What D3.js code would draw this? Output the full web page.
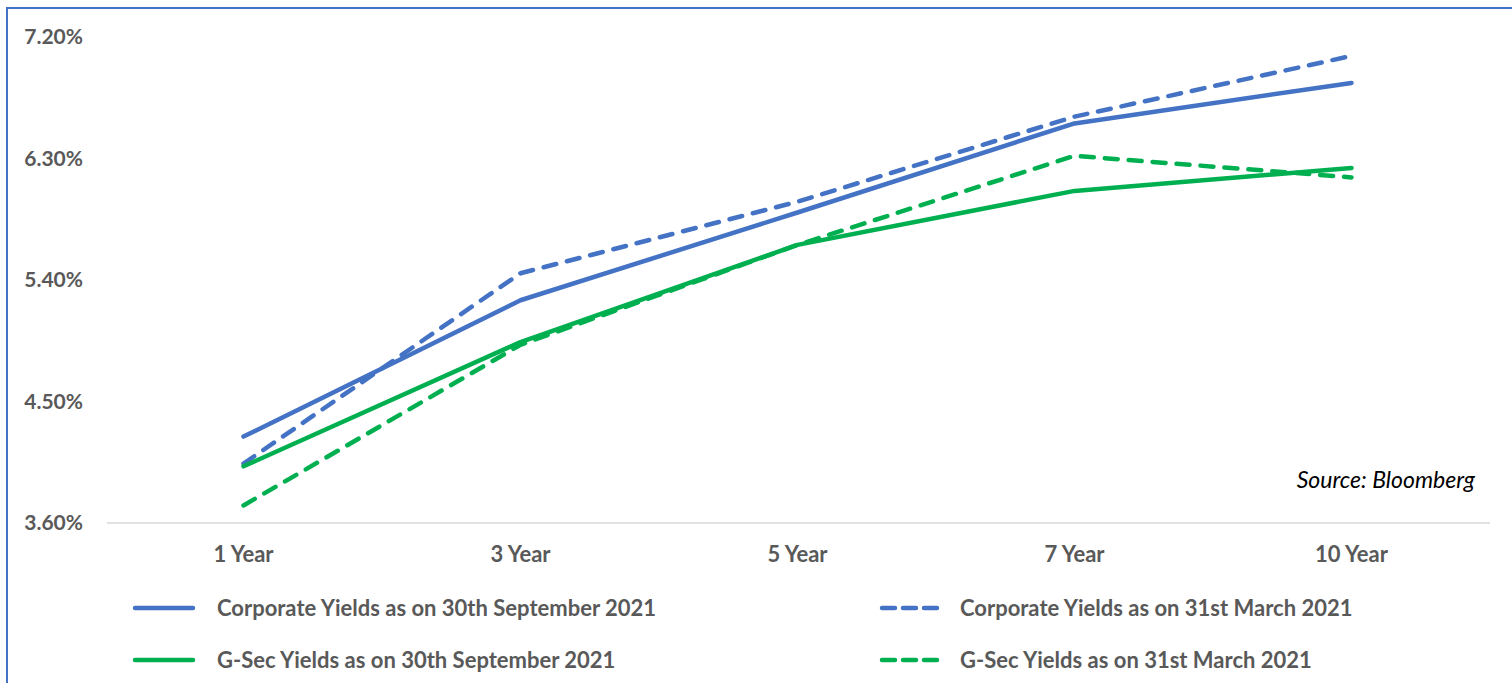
<!DOCTYPE html>
<html><head><meta charset="utf-8">
<script src="https://cdn.jsdelivr.net/npm/d3@7"></script>
<style>
html,body{margin:0;padding:0;background:#fff;}
svg{display:block;font-family:Lato,"Open Sans",sans-serif;}
</style></head>
<body>
<script>
const categories = ["1 Year","3 Year","5 Year","7 Year","10 Year"];
const corpSep = [4.24, 5.25, 5.90, 6.56, 6.86];
const corpMar = [4.04, 5.45, 5.98, 6.61, 7.06];
const gsecSep = [4.02, 4.94, 5.66, 6.06, 6.23];
const gsecMar = [3.73, 4.92, 5.66, 6.32, 6.16];
const yTicks = [3.6, 4.5, 5.4, 6.3, 7.2];
const seriesNames = ["Corporate Yields as on 30th September 2021","Corporate Yields as on 31st March 2021","G-Sec Yields as on 30th September 2021","G-Sec Yields as on 31st March 2021"];
const sourceText = "Source: Bloomberg";

const W = 1512, H = 683;
const svg = d3.select("body").append("svg").attr("width", W).attr("height", H);

// border
svg.append("rect").attr("x", 7).attr("y", 8).attr("width", W + 20).attr("height", H + 20)
  .attr("fill", "none").attr("stroke", "#4472C4").attr("stroke-width", 2);

const x = d3.scaleBand().domain(categories).range([105, 1490]);
const y = d3.scaleLinear().domain([3.6, 7.2]).range([523, 37]);
const cx = d => x(d) + x.bandwidth() / 2;

// baseline
svg.append("line").attr("x1", 107).attr("x2", 1490).attr("y1", y(3.6)).attr("y2", y(3.6))
  .attr("stroke", "#d9d9d9").attr("stroke-width", 1.5);

// y axis labels
const yAxis = d3.axisLeft(y).tickValues(yTicks).tickSize(0).tickPadding(0)
  .tickFormat(d => d3.format(".2f")(d) + "%");
const gy = svg.append("g").attr("transform", "translate(83,0)").call(yAxis);
gy.select(".domain").remove();
gy.selectAll("text").attr("fill", "#595959").attr("font-size", 21).attr("font-weight", "bold")
  .attr("font-family", "Lato,'Open Sans',sans-serif");

// x axis labels
const xAxis = d3.axisBottom(x).tickSize(0).tickPadding(0);
const gx = svg.append("g").attr("transform", "translate(0,546)").call(xAxis);
gx.select(".domain").remove();
gx.selectAll("text").attr("fill", "#595959").attr("font-size", 22).attr("font-weight", "bold")
  .attr("font-family", "Lato,'Open Sans',sans-serif");

const blue = "#4472C4", green = "#00B050";
const dash = "13,11";
const series = [
  {vals: corpSep, color: blue, dash: null},
  {vals: corpMar, color: blue, dash: dash},
  {vals: gsecSep, color: green, dash: null},
  {vals: gsecMar, color: green, dash: dash}
];
const line = d3.line().x((d, i) => cx(categories[i])).y(d => y(d));
[series[1], series[3], series[0], series[2]].forEach(s => {
  svg.append("path").attr("d", line(s.vals)).attr("fill", "none")
    .attr("stroke", s.color).attr("stroke-width", 4.5)
    .attr("stroke-linecap", "round").attr("stroke-linejoin", "round")
    .attr("stroke-dasharray", s.dash);
});

// source
svg.append("text").attr("x", 1475).attr("y", 488).attr("text-anchor", "end")
  .attr("font-style", "italic").attr("font-size", 23).attr("fill", "#000").text(sourceText);

// legend
const legPos = [[135, 608], [882, 608], [135, 660], [882, 660]];
series.forEach((s, i) => {
  const [lx, ly] = legPos[i];
  svg.append("line").attr("x1", lx).attr("x2", lx + 58).attr("y1", ly).attr("y2", ly)
    .attr("stroke", s.color).attr("stroke-width", 4.5).attr("stroke-linecap", "round")
    .attr("stroke-dasharray", s.dash ? "13,8" : null);
  svg.append("text").attr("x", s.dash ? lx + 78 : lx + 82).attr("y", ly + 8)
    .attr("font-size", 22).attr("font-weight", "bold").attr("fill", "#595959")
    .text(seriesNames[i]);
});
</script>
</body></html>
